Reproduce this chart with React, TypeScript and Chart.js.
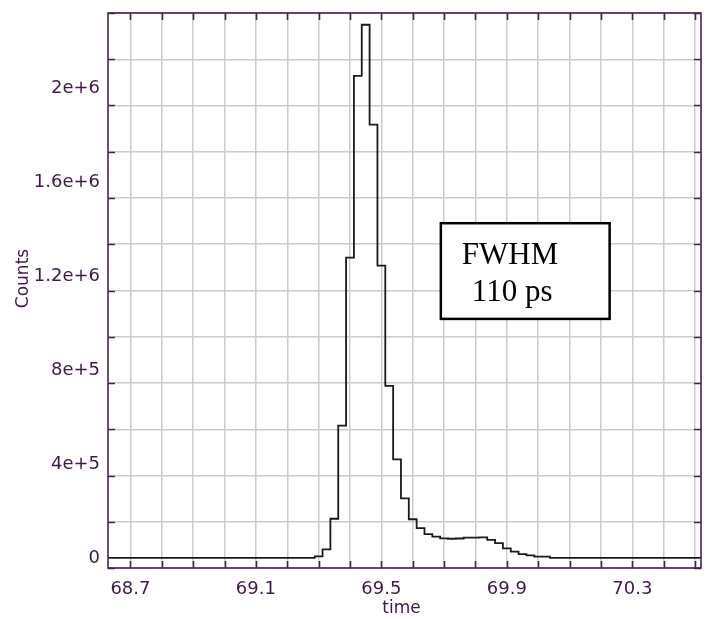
import React, { useEffect, useRef } from 'react';
import { Chart, registerables } from 'chart.js';

Chart.register(...registerables);

// ---- Data (histogram bins, bin width 0.025) ----
const binCenters = [
  69.275, 69.3, 69.325, 69.35, 69.375, 69.4, 69.425, 69.45, 69.475, 69.5,
  69.525, 69.55, 69.575, 69.6, 69.625, 69.65, 69.675, 69.7, 69.725, 69.75,
  69.775, 69.8, 69.825, 69.85, 69.875, 69.9, 69.925, 69.95, 69.975, 70.0,
  70.025, 70.05,
];
const binCounts = [
  0, 6000, 36000, 166000, 562000, 1277000, 2050000, 2267000, 1842000, 1243000,
  731000, 419000, 253000, 164000, 126000, 101000, 90000, 83000, 81000, 82000,
  86000, 86000, 87000, 76000, 62000, 40000, 26000, 16000, 10600, 4700,
  4700, 0,
];

const xTickValues = [68.7, 69.1, 69.5, 69.9, 70.3];
const xTickLabels = ['68.7', '69.1', '69.5', '69.9', '70.3'];
const yTickValues = [0, 400000, 800000, 1200000, 1600000, 2000000];
const yTickLabels = ['0', '4e+5', '8e+5', '1.2e+6', '1.6e+6', '2e+6'];

const xTitle = 'time';
const yTitle = 'Counts';
const annotationLines = ['FWHM', '110 ps'];

// ---- Axis ranges & annotation placement (data coordinates) ----
const X_MIN = 68.6285;
const X_MAX = 70.519;
const Y_MIN = -43400;
const Y_MAX = 2317000;
const BOX_X0 = 69.6896;
const BOX_X1 = 70.2277;
const BOX_Y0 = 1016000;
const BOX_Y1 = 1423000;

const AXIS_COLOR = '#47244f';
const TEXT_COLOR = '#3d1a47';
const FONT = "'DejaVu Sans', Verdana, sans-serif";

const framePlugin = {
  id: 'frameAndAnnotations',
  afterDatasetsDraw(chart: any) {
    const { ctx, chartArea: a, scales } = chart;
    const xs = scales.x;
    const ys = scales.y;
    ctx.save();

    // annotation box
    const bx0 = xs.getPixelForValue(BOX_X0);
    const bx1 = xs.getPixelForValue(BOX_X1);
    const by0 = ys.getPixelForValue(BOX_Y1);
    const by1 = ys.getPixelForValue(BOX_Y0);
    ctx.fillStyle = '#ffffff';
    ctx.fillRect(bx0, by0, bx1 - bx0, by1 - by0);
    ctx.strokeStyle = '#000000';
    ctx.lineWidth = 2.5;
    ctx.strokeRect(bx0, by0, bx1 - bx0, by1 - by0);
    ctx.fillStyle = '#000000';
    ctx.font = "31px 'Liberation Serif', 'Times New Roman', serif";
    ctx.textAlign = 'left';
    ctx.textBaseline = 'alphabetic';
    ctx.fillText(annotationLines[0], bx0 + 21, by0 + 41);
    ctx.fillText(annotationLines[1], bx0 + 31, by0 + 77.5);

    // frame
    ctx.strokeStyle = AXIS_COLOR;
    ctx.lineWidth = 1.6;
    ctx.strokeRect(a.left, a.top, a.right - a.left, a.bottom - a.top);

    // inward tick marks
    const TL = 7;
    ctx.beginPath();
    xs.ticks.forEach((t: any) => {
      const px = Math.round(xs.getPixelForValue(t.value)) + 0.5;
      ctx.moveTo(px, a.bottom);
      ctx.lineTo(px, a.bottom - TL);
      ctx.moveTo(px, a.top);
      ctx.lineTo(px, a.top + TL);
    });
    ys.ticks.forEach((t: any) => {
      const py = Math.round(ys.getPixelForValue(t.value)) + 0.5;
      ctx.moveTo(a.left, py);
      ctx.lineTo(a.left + TL, py);
      ctx.moveTo(a.right, py);
      ctx.lineTo(a.right - TL, py);
    });
    ctx.stroke();
    ctx.restore();
  },
  afterDraw(chart: any) {
    const { ctx, chartArea: a, scales } = chart;
    const ys = scales.y;
    ctx.save();
    ctx.fillStyle = TEXT_COLOR;
    // y tick labels
    ctx.font = `18px ${FONT}`;
    ctx.textAlign = 'right';
    ctx.textBaseline = 'middle';
    yTickValues.forEach((v, i) => {
      ctx.fillText(yTickLabels[i], a.left - 8, ys.getPixelForValue(v) + 1);
    });
    // axis titles
    ctx.font = `17px ${FONT}`;
    ctx.textAlign = 'center';
    ctx.textBaseline = 'alphabetic';
    ctx.fillText(xTitle, (a.left + a.right) / 2 - 3, 612.5);
    ctx.translate(28, (a.top + a.bottom) / 2 - 12);
    ctx.rotate(-Math.PI / 2);
    ctx.fillText(yTitle, 0, 0);
    ctx.restore();
  },
};

function lookup(values: number[], labels: string[], v: number) {
  const i = values.findIndex((t) => Math.abs(t - v) < 1e-6 * Math.max(1, Math.abs(t)));
  return i >= 0 ? labels[i] : '';
}

export default function App() {
  const canvasRef = useRef<HTMLCanvasElement | null>(null);

  useEffect(() => {
    if (!canvasRef.current) return;
    const points = [
      { x: X_MIN, y: 0 },
      ...binCenters.map((x, i) => ({ x, y: binCounts[i] })),
      { x: X_MAX, y: 0 },
    ];
    const chart = new Chart(canvasRef.current, {
      type: 'line',
      data: {
        datasets: [
          {
            data: points,
            stepped: 'middle',
            borderColor: '#1a1a1a',
            borderWidth: 1.8,
            pointRadius: 0,
            fill: false,
            tension: 0,
          },
        ],
      },
      options: {
        animation: false,
        responsive: false,
        layout: { padding: { top: 13, right: 10, left: 0, bottom: 0 } },
        plugins: {
          legend: { display: false },
          tooltip: { enabled: false },
        },
        scales: {
          x: {
            type: 'linear',
            min: X_MIN,
            max: X_MAX,
            border: { display: false },
            grid: { color: '#cccccc', lineWidth: 1.5, drawTicks: false },
            ticks: {
              stepSize: 0.1,
              includeBounds: false,
              autoSkip: false,
              maxRotation: 0,
              padding: 11,
              color: TEXT_COLOR,
              font: { family: FONT, size: 18 },
              callback: (v: any) => lookup(xTickValues, xTickLabels, Number(v)),
            },
            afterFit: (scale: any) => {
              scale.height = 51;
            },
          },
          y: {
            type: 'linear',
            min: Y_MIN,
            max: Y_MAX,
            border: { display: false },
            grid: { color: '#cccccc', lineWidth: 1.5, drawTicks: false },
            ticks: {
              display: false,
              stepSize: 200000,
              includeBounds: false,
              autoSkip: false,
            },
            afterFit: (scale: any) => {
              scale.width = 108;
            },
          },
        },
      },
      plugins: [framePlugin],
    });
    return () => chart.destroy();
  }, []);

  return (
    <div style={{ position: 'fixed', left: 0, top: 0, width: 711, height: 619, background: '#ffffff' }}>
      <canvas ref={canvasRef} width={711} height={619} style={{ display: 'block' }} />
    </div>
  );
}
